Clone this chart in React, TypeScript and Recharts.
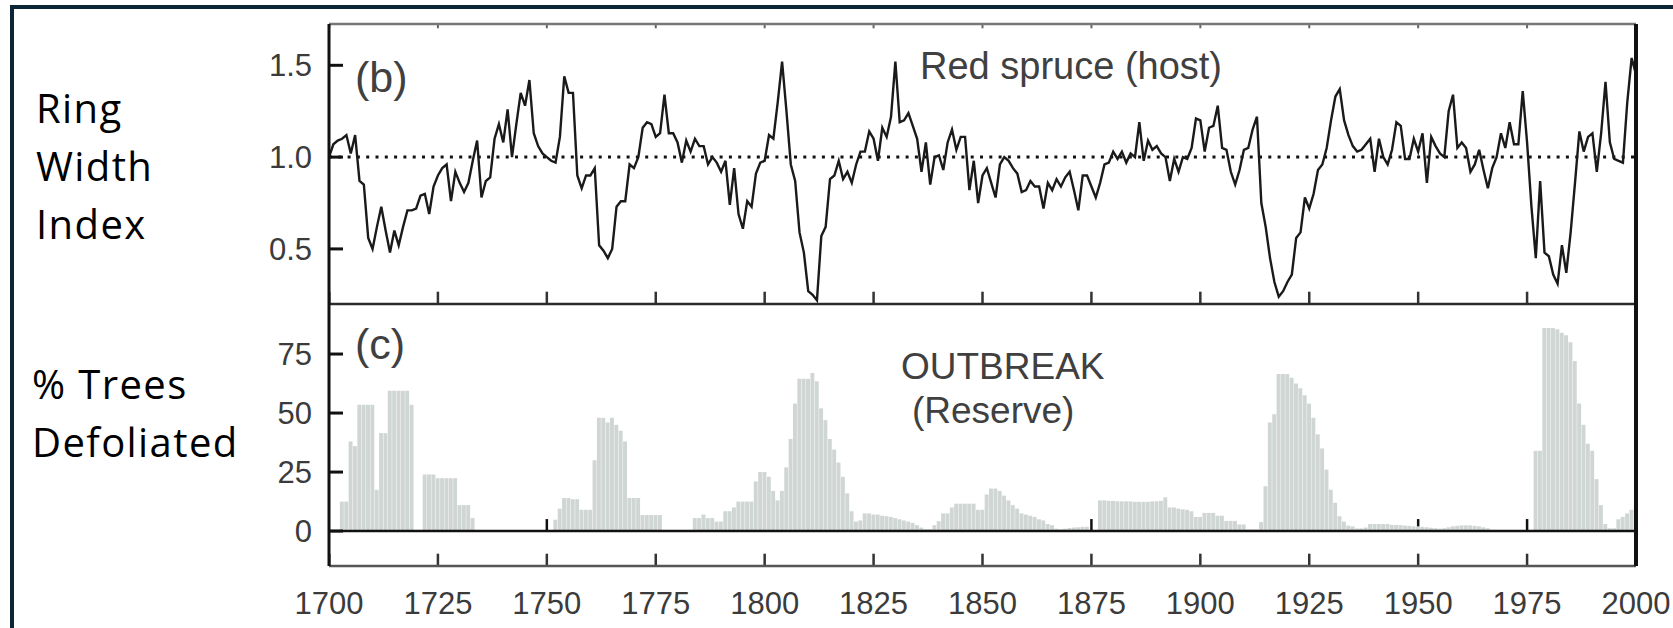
import React from "react";
import { LineChart, Line, BarChart, Bar, XAxis, YAxis, ReferenceLine } from "recharts";

// Ring width index of red spruce, one value per year from 1700 to 2000
const firstYear = 1700;
const ringWidth = [
  1.0, 1.07, 1.09, 1.1, 1.12, 1.02, 1.12, 0.87, 0.85, 0.56, // 1700
  0.5, 0.62, 0.73, 0.6, 0.48, 0.6, 0.52, 0.62, 0.71, 0.71, // 1710
  0.72, 0.79, 0.8, 0.69, 0.84, 0.9, 0.94, 0.96, 0.76, 0.92, // 1720
  0.86, 0.81, 0.86, 0.98, 1.09, 0.78, 0.87, 0.89, 1.1, 1.18, // 1730
  1.08, 1.26, 1.0, 1.18, 1.35, 1.28, 1.42, 1.13, 1.06, 1.02, // 1740
  1.0, 0.98, 0.97, 1.11, 1.44, 1.35, 1.35, 0.9, 0.83, 0.9, // 1750
  0.9, 0.94, 0.52, 0.49, 0.45, 0.5, 0.73, 0.76, 0.76, 0.96, // 1760
  0.94, 1.0, 1.16, 1.19, 1.18, 1.11, 1.13, 1.34, 1.13, 1.13, // 1770
  1.08, 0.97, 1.09, 1.03, 1.1, 1.06, 1.06, 0.96, 1.0, 0.97, // 1780
  0.92, 0.98, 0.74, 0.94, 0.69, 0.61, 0.76, 0.73, 0.91, 0.97, // 1790
  0.98, 1.12, 1.1, 1.3, 1.52, 1.25, 0.96, 0.87, 0.59, 0.48, // 1800
  0.27, 0.25, 0.22, 0.57, 0.62, 0.88, 0.9, 0.98, 0.88, 0.92, // 1810
  0.86, 0.96, 1.03, 1.03, 1.14, 1.1, 0.98, 1.16, 1.11, 1.22, // 1820
  1.52, 1.19, 1.2, 1.24, 1.17, 1.1, 0.92, 1.08, 0.85, 1.0, // 1830
  1.01, 0.93, 1.08, 1.15, 1.04, 1.11, 1.11, 0.82, 0.98, 0.75, // 1840
  0.9, 0.94, 0.86, 0.78, 0.96, 1.0, 0.98, 0.94, 0.91, 0.81, // 1850
  0.82, 0.87, 0.84, 0.84, 0.72, 0.86, 0.82, 0.88, 0.84, 0.89, // 1860
  0.92, 0.82, 0.71, 0.9, 0.9, 0.84, 0.78, 0.86, 0.96, 0.97, // 1870
  1.03, 0.99, 1.03, 0.97, 1.02, 1.0, 1.19, 0.98, 1.09, 1.04, // 1880
  1.06, 1.02, 1.0, 0.87, 0.99, 0.92, 1.0, 0.99, 1.05, 1.21, // 1890
  1.2, 1.03, 1.16, 1.17, 1.28, 1.05, 1.04, 0.92, 0.85, 0.93, // 1900
  1.04, 1.05, 1.15, 1.22, 0.75, 0.62, 0.45, 0.32, 0.24, 0.27, // 1910
  0.32, 0.36, 0.56, 0.59, 0.78, 0.72, 0.8, 0.93, 0.96, 1.05, // 1920
  1.2, 1.33, 1.37, 1.2, 1.12, 1.06, 1.03, 1.04, 1.07, 1.1, // 1930
  0.92, 1.1, 1.0, 0.96, 1.04, 1.19, 1.17, 0.99, 0.99, 1.1, // 1940
  1.03, 1.13, 0.86, 1.11, 1.06, 1.02, 1.0, 1.25, 1.34, 1.05, // 1950
  1.08, 1.05, 0.92, 0.96, 1.04, 0.93, 0.83, 0.94, 1.0, 1.13, // 1960
  1.05, 1.19, 1.07, 1.07, 1.36, 1.08, 0.73, 0.45, 0.87, 0.48, // 1970
  0.46, 0.36, 0.31, 0.52, 0.37, 0.59, 0.86, 1.14, 1.03, 1.11, // 1980
  1.13, 0.92, 1.13, 1.41, 1.08, 0.99, 0.98, 0.97, 1.3, 1.54, // 1990
  1.45, // 2000
];

// % of trees defoliated (outbreak record, Reserve), same years
const defoliated = [
  0, 0, 0, 12.5, 12.5, 38, 36, 53.5, 53.5, 53.5, // 1700
  53.5, 17.5, 41.5, 41.5, 59.5, 59.5, 59.5, 59.5, 59.5, 53.5, // 1710
  0, 0, 24, 24, 24, 22.4, 22.4, 22.4, 22.4, 22.4, // 1720
  11, 11, 11, 5.5, 0, 0, 0, 0, 0, 0, // 1730
  0, 0, 0, 0, 0, 0, 0, 0, 0, 0, // 1740
  0, 0, 4.8, 9.5, 14, 14, 13.5, 13.5, 9, 9, // 1750
  9, 30, 48, 48, 46, 48, 45, 42.5, 38, 14, // 1760
  14, 14, 6.8, 6.8, 6.8, 6.8, 6.8, 0, 0, 0, // 1770
  0, 0, 0, 0, 5.5, 5.5, 7, 5.5, 5.5, 4, // 1780
  4, 8.4, 8.4, 10, 12.5, 12.5, 12.5, 12.5, 21, 25, // 1790
  25, 23, 17, 13, 17, 27, 39, 54, 64.5, 64.5, // 1800
  64.5, 67, 63.5, 52, 47, 39, 34.5, 29, 23, 16, // 1810
  8.4, 4, 4.5, 7.5, 7.5, 7, 7, 6.5, 6.3, 6, // 1820
  5.5, 5, 4.5, 4, 3.5, 2.5, 1.5, 0.8, 0.8, 2.5, // 1830
  4.2, 7.5, 7.5, 10, 11.6, 11.6, 11.6, 11.6, 11.6, 9, // 1840
  9, 15.5, 18, 18, 17, 15, 13, 11, 9.5, 7.5, // 1850
  7, 6.5, 6, 5, 4.5, 3, 2.5, 1, 0.8, 1, // 1860
  1.3, 1.5, 1.6, 1.8, 1.8, 0, 0, 13, 13, 12.8, // 1870
  12.8, 12.6, 12.6, 12.6, 12.6, 12.4, 12.4, 12.4, 12.4, 12.6, // 1880
  12.6, 12.8, 14.3, 10, 10, 9.5, 9.2, 9, 8.4, 6, // 1890
  6, 7.7, 7.7, 7.7, 6.5, 6.5, 4.3, 4.3, 4.3, 2.8, // 1900
  2.8, 0.7, 0.7, 0.7, 3.8, 19, 46, 49.5, 66.5, 66.5, // 1910
  66.5, 65, 62.5, 60.5, 57.5, 54, 48, 41, 35, 26, // 1920
  17.5, 12, 6.3, 4, 2.3, 2, 1.1, 1.1, 1.5, 3, // 1930
  3, 3, 3, 3, 2.6, 2.6, 2.5, 2.3, 2.2, 2, // 1940
  2, 1.8, 1.6, 1.4, 1.2, 1, 1.2, 1.6, 2, 2.2, // 1950
  2.4, 2.4, 2.4, 2.2, 2, 1.6, 1.2, 0, 0, 0, // 1960
  0, 0, 0, 0, 0, 0, 0, 34, 34, 86, // 1970
  86, 86, 85.5, 84, 83, 80, 72, 54, 45, 37, // 1980
  34, 22, 11, 3, 1.2, 1.2, 5, 6, 7.5, 9, // 1990
  10, // 2000
];

const yearTicks = [1700, 1725, 1750, 1775, 1800, 1825, 1850, 1875, 1900, 1925, 1950, 1975, 2000];
const ringTicks = [0.5, 1.0, 1.5];
const defolTicks = [0, 25, 50, 75];

const rows = ringWidth.map((rwi, i) => ({ year: firstYear + i, rwi, pct: defoliated[i] }));

const W = 1673;
const PLOT_LEFT = 329;
const PLOT_RIGHT = 1636;
const Y_AXIS_W = 60;
const X_DOMAIN: [number, number] = [1700, 2000];
const RING_DOMAIN: [number, number] = [0.2, 1.725];
const DEFOL_DOMAIN: [number, number] = [-14.8, 96.2];
const TOP_H = 280; // plot height of panel (b)
const BOT_H = 262; // plot height of panel (c)
const TICK_FONT = '"Liberation Sans", Arial, Helvetica, sans-serif';
const SIDE_FONT = '"Open Sans", "Noto Sans", sans-serif';
const tickText = { fontSize: 31, fill: "#3b3b3b", fontFamily: TICK_FONT };

// px -> data units for each scale (tick marks are a fixed number of px long)
const xPerPx = (X_DOMAIN[1] - X_DOMAIN[0]) / (PLOT_RIGHT - PLOT_LEFT);
const ringPerPx = (RING_DOMAIN[1] - RING_DOMAIN[0]) / TOP_H;
const defolPerPx = (DEFOL_DOMAIN[1] - DEFOL_DOMAIN[0]) / BOT_H;
const EDGE = 0.3; // keep edge ticks a hair inside the plot

// inward tick marks along x, drawn as short reference segments
function vTicks(yFrom: number, lenData: number, stroke: string, width: number, yAxisId: string, xAxisId?: string) {
  return yearTicks.map((t) => {
    const x = Math.min(Math.max(t, X_DOMAIN[0] + EDGE * xPerPx), X_DOMAIN[1] - EDGE * xPerPx);
    return (
      <ReferenceLine
        key={`v${yFrom}-${t}`}
        xAxisId={xAxisId}
        yAxisId={yAxisId}
        ifOverflow="visible"
        segment={[
          { x, y: yFrom },
          { x, y: yFrom + lenData },
        ]}
        stroke={stroke}
        strokeWidth={width}
      />
    );
  });
}

function hTicks(values: number[], yAxisId: string, xAxisId?: string) {
  return values.map((v) => (
    <ReferenceLine
      key={`h${v}`}
      xAxisId={xAxisId}
      yAxisId={yAxisId}
      ifOverflow="visible"
      segment={[
        { x: X_DOMAIN[0] + EDGE * xPerPx, y: v },
        { x: X_DOMAIN[0] + 14 * xPerPx, y: v },
      ]}
      stroke="#111"
      strokeWidth={3}
    />
  ));
}

// ticks rising from the zero line; only the part above the bar shows, as in the source
function zeroTicks() {
  const top = 12 * defolPerPx;
  return yearTicks
    .filter((t) => t > X_DOMAIN[0] && t < X_DOMAIN[1])
    .map((t) => ({ t, base: defoliated[t - firstYear] }))
    .filter(({ base }) => base < top)
    .map(({ t, base }) => (
      <ReferenceLine
        key={`z${t}`}
        yAxisId="l"
        ifOverflow="visible"
        segment={[
          { x: t, y: base },
          { x: t, y: top },
        ]}
        stroke="#111"
        strokeWidth={2.5}
      />
    ));
}

export default function App() {
  const margin = { left: PLOT_LEFT - Y_AXIS_W, right: W - PLOT_RIGHT };
  return (
    <div style={{ position: "absolute", left: 0, top: 0, width: W, height: 628, overflow: "hidden", background: "#fff" }}>
      <div
        style={{
          position: "absolute",
          left: 10,
          top: 5,
          width: 1720,
          height: 720,
          border: "4px solid #0c2636",
          boxSizing: "border-box",
        }}
      />

      {/* (b) ring width */}
      <div style={{ position: "absolute", left: 0, top: 0 }}>
        <LineChart width={W} height={310} data={rows} margin={{ ...margin, top: 24, bottom: 6 }}>
          <XAxis
            xAxisId="t"
            orientation="top"
            mirror
            type="number"
            dataKey="year"
            domain={X_DOMAIN}
            ticks={yearTicks}
            height={1}
            tick={false}
            tickLine={false}
            axisLine={{ stroke: "#777", strokeWidth: 2.5 }}
          />
          <XAxis
            xAxisId="b"
            mirror
            type="number"
            dataKey="year"
            domain={X_DOMAIN}
            ticks={yearTicks}
            height={1}
            tick={false}
            tickLine={false}
            axisLine={{ stroke: "#2b2b2b", strokeWidth: 2.5 }}
          />
          <YAxis
            yAxisId="l"
            width={Y_AXIS_W}
            domain={RING_DOMAIN}
            ticks={ringTicks}
            interval={0}
            allowDataOverflow
            tickSize={0}
            tickMargin={17}
            tickFormatter={(v: number) => v.toFixed(1)}
            tick={tickText}
            tickLine={false}
            axisLine={{ stroke: "#111", strokeWidth: 3 }}
          />
          <YAxis
            yAxisId="r"
            orientation="right"
            mirror
            width={1}
            domain={[0, 1]}
            tick={false}
            tickLine={false}
            axisLine={{ stroke: "#111", strokeWidth: 4 }}
          />
          {hTicks(ringTicks, "l", "b")}
          {vTicks(RING_DOMAIN[0] + EDGE * ringPerPx, 12 * ringPerPx, "#333", 2.5, "l", "b")}
          {vTicks(RING_DOMAIN[1] - EDGE * ringPerPx, -4 * ringPerPx, "#666", 2, "l", "b")}
          <ReferenceLine xAxisId="b" yAxisId="l" y={1} stroke="#111" strokeWidth={3} strokeDasharray="3 6.3" />
          <Line
            xAxisId="b"
            yAxisId="l"
            type="linear"
            dataKey="rwi"
            stroke="#1a1a1a"
            strokeWidth={2.4}
            dot={false}
            isAnimationActive={false}
          />
        </LineChart>
      </div>

      {/* (c) % trees defoliated */}
      <div style={{ position: "absolute", left: 0, top: 304 }}>
        <BarChart width={W} height={324} data={rows} margin={{ ...margin, top: 0, bottom: 0 }} barCategoryGap={0} barGap={0}>
          <XAxis
            type="number"
            dataKey="year"
            domain={X_DOMAIN}
            ticks={yearTicks}
            interval={0}
            height={62}
            tickSize={0}
            tickMargin={26}
            tick={tickText}
            tickLine={false}
            axisLine={{ stroke: "#555", strokeWidth: 2.5 }}
          />
          <YAxis
            yAxisId="l"
            width={Y_AXIS_W}
            domain={DEFOL_DOMAIN}
            ticks={defolTicks}
            interval={0}
            allowDataOverflow
            tickSize={0}
            tickMargin={17}
            tick={tickText}
            tickLine={false}
            axisLine={{ stroke: "#111", strokeWidth: 3 }}
          />
          <YAxis
            yAxisId="r"
            orientation="right"
            mirror
            width={1}
            domain={[0, 1]}
            tick={false}
            tickLine={false}
            axisLine={{ stroke: "#111", strokeWidth: 4 }}
          />
          {hTicks(defolTicks, "l")}
          {vTicks(DEFOL_DOMAIN[0] + EDGE * defolPerPx, 12 * defolPerPx, "#333", 2.5, "l")}
          <Bar yAxisId="l" dataKey="pct" fill="#cbd2cf" fillOpacity={0.9} barSize={4.4} isAnimationActive={false} />
          {zeroTicks()}
          <ReferenceLine yAxisId="l" y={0} stroke="#111" strokeWidth={2.5} />
        </BarChart>
      </div>

      <svg width={W} height={628} style={{ position: "absolute", left: 0, top: 0, pointerEvents: "none" }}>
        <g fontFamily={SIDE_FONT} fontSize={40} fill="#000" letterSpacing={1.4}>
          <text x={36} y={123}>Ring</text>
          <text x={36} y={181}>Width</text>
          <text x={36} y={239}>Index</text>
          <text x={32} y={399}>% Trees</text>
          <text x={32} y={457}>Defoliated</text>
        </g>
        <g fontFamily={TICK_FONT} fill="#404040">
          <text x={355} y={92} fontSize={43}>(b)</text>
          <text x={920} y={79} fontSize={38}>Red spruce (host)</text>
          <text x={355} y={359} fontSize={43}>(c)</text>
          <text x={901} y={379} fontSize={37}>OUTBREAK</text>
          <text x={912} y={423} fontSize={37}>(Reserve)</text>
        </g>
      </svg>
    </div>
  );
}
